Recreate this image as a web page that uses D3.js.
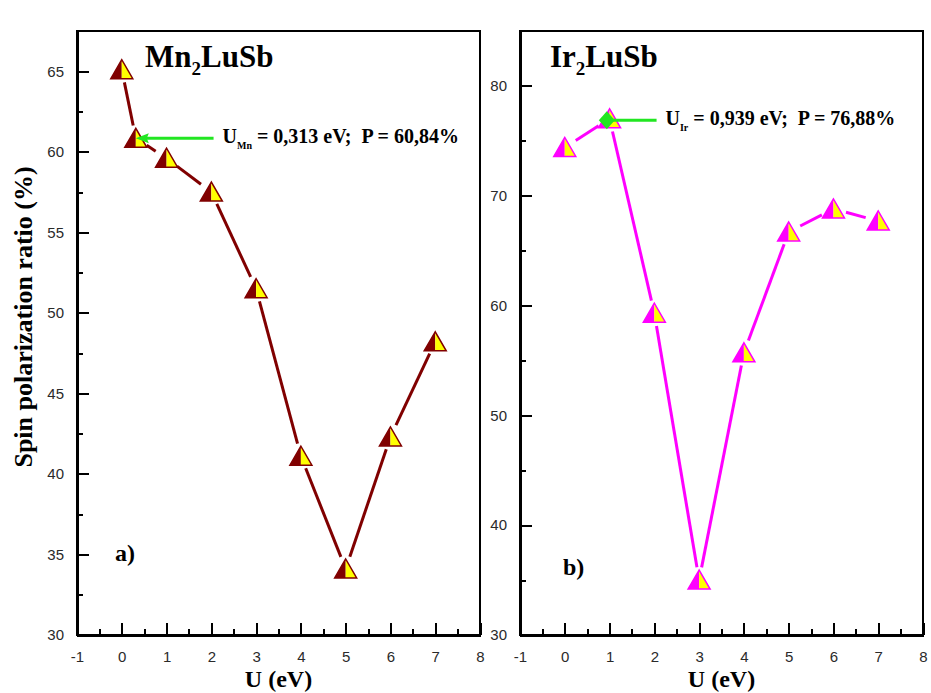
<!DOCTYPE html>
<html>
<head>
<meta charset="utf-8">
<script src="https://cdn.jsdelivr.net/npm/d3@7"></script>
<style>
	body { margin:0; background:#fff; }
	svg text { font-family:"Liberation Serif","Times New Roman",serif; }
	.tick text { font-family:"Liberation Sans",Arial,sans-serif; font-size:15px; fill:#2a2a2a; }
	.axis path, .axis line { stroke:#000; stroke-width:2px; shape-rendering:crispEdges; }
	.frame { shape-rendering:crispEdges; }
	.note { white-space:pre; }
</style>
</head>
<body>
<svg id="chart" width="931" height="693"></svg>
<script>
//================== DATA ==================
// panel a) Mn2LuSb
var mnU = [0, 0.313, 1, 2, 3, 4, 5, 6, 7];
var mnP = [65.1, 60.84, 59.6, 57.5, 51.5, 41.1, 34.1, 42.3, 48.2];
// panel b) Ir2LuSb
var irU = [0, 1, 2, 3, 4, 5, 6, 7];
var irP = [74.4, 77.0, 59.3, 35.0, 55.7, 66.7, 68.8, 67.7];

// marked optimum points (annotation)
var mnOptimum = [0.313, 60.84];
var irOptimum = [0.939, 76.88];

// tick values
var xTicks = [-1, 0, 1, 2, 3, 4, 5, 6, 7, 8];
var mnYTicks = [30, 35, 40, 45, 50, 55, 60, 65];
var irYTicks = [30, 40, 50, 60, 70, 80];

var svg = d3.select("#chart");

// plain hyphen for negatives, like the original
var tickFmt = function (d) { return String(d); };

//================== PANEL FUNCTION ==================
function panel(cfg) {
	var x = d3.scaleLinear().domain([-1, 8]).range([cfg.left, cfg.right]);
	var y = d3.scaleLinear().domain(cfg.yDomain).range([cfg.bottom, cfg.top]);
	var g = svg.append("g");

	// frame
	g.append("rect").attr("class", "frame")
		.attr("x", cfg.left).attr("y", cfg.top)
		.attr("width", cfg.right - cfg.left).attr("height", cfg.bottom - cfg.top)
		.attr("fill", "none").attr("stroke", "#000").attr("stroke-width", 2);

	// minor ticks (inward, no labels)
	var xMinor = d3.range(-0.5, 8, 1);
	g.append("g").attr("class", "axis")
		.attr("transform", "translate(0," + cfg.bottom + ")")
		.call(d3.axisBottom(x).tickValues(xMinor).tickSizeInner(-6).tickSizeOuter(0).tickFormat(""))
		.select(".domain").remove();
	var yMinor = d3.range(cfg.yDomain[0] + cfg.step / 2, cfg.yDomain[1], cfg.step);
	g.append("g").attr("class", "axis")
		.attr("transform", "translate(" + cfg.left + ",0)")
		.call(d3.axisLeft(y).tickValues(yMinor).tickSizeInner(-6).tickSizeOuter(0).tickFormat(""))
		.select(".domain").remove();

	// major ticks
	g.append("g").attr("class", "axis")
		.attr("transform", "translate(0," + cfg.bottom + ")")
		.call(d3.axisBottom(x).tickValues(xTicks).tickSizeInner(-12).tickSizeOuter(0).tickPadding(16).tickFormat(tickFmt));
	g.append("g").attr("class", "axis")
		.attr("transform", "translate(" + cfg.left + ",0)")
		.call(d3.axisLeft(y).tickValues(cfg.yTicks).tickSizeInner(-12).tickSizeOuter(0).tickPadding(13).tickFormat(tickFmt));

	// connecting line with gaps around the symbols
	var pts = cfg.u.map(function (u, i) { return [x(u), y(cfg.p[i])]; });
	var gap = 13;
	for (var i = 0; i < pts.length - 1; i++) {
		var a = pts[i], b = pts[i + 1];
		var dx = b[0] - a[0], dy = b[1] - a[1];
		var len = Math.sqrt(dx * dx + dy * dy);
		if (len <= 2 * gap) continue;
		var ux = dx / len, uy = dy / len;
		g.append("line")
			.attr("x1", a[0] + ux * gap).attr("y1", a[1] + uy * gap)
			.attr("x2", b[0] - ux * gap).attr("y2", b[1] - uy * gap)
			.attr("stroke", cfg.color).attr("stroke-width", 3);
	}

	// half filled triangles
	var w = 11, up = 10, dn = 9;
	var marks = g.selectAll("g.mark").data(pts).enter().append("g")
		.attr("class", "mark")
		.attr("transform", function (d) { return "translate(" + d + ")"; });
	marks.append("path")
		.attr("d", "M0," + (-up) + "L" + (-w) + "," + dn + "L0," + dn + "Z")
		.attr("fill", cfg.color);
	marks.append("path")
		.attr("d", "M0," + (-up) + "L" + w + "," + dn + "L0," + dn + "Z")
		.attr("fill", "#ffff00");
	marks.append("path")
		.attr("d", "M0," + (-up) + "L" + (-w) + "," + dn + "L" + w + "," + dn + "Z")
		.attr("fill", "none").attr("stroke", cfg.color).attr("stroke-width", 1.5);

	// green optimum marker + line + text
	var ox = x(cfg.opt[0]), oy = y(cfg.opt[1]);
	var green = "#22e622";
	g.append("line")
		.attr("x1", ox + 6).attr("y1", oy).attr("x2", x(2.05)).attr("y2", oy)
		.attr("stroke", green).attr("stroke-width", 3);
	if (cfg.arrow) {
		g.append("path")
			.attr("d", "M" + ox + "," + oy + "l13,-5l-2,5l2,5z")
			.attr("fill", green);
	} else {
		g.append("path")
			.attr("d", "M" + (ox - 8) + "," + oy + "l8,-9l8,9l-8,9z")
			.attr("fill", green);
	}
	var note = g.append("text").attr("class", "note")
		.attr("x", x(2.25)).attr("y", oy + 5)
		.attr("font-weight", "bold").attr("font-size", 20);
	note.append("tspan").text("U");
	note.append("tspan").attr("font-size", 10).attr("dy", 6).text(cfg.sub);
	note.append("tspan").attr("dy", -6).text(" = " + cfg.optText[0] + " eV;  P = " + cfg.optText[1] + "%");

	// compound title
	var title = g.append("text")
		.attr("x", cfg.titleX).attr("y", 67)
		.attr("font-weight", "bold").attr("font-size", 31);
	title.append("tspan").text(cfg.name[0]);
	title.append("tspan").attr("font-size", 19).attr("dy", 8).text("2");
	title.append("tspan").attr("dy", -8).text(cfg.name[1]);

	// panel letter
	g.append("text")
		.attr("x", cfg.letterX).attr("y", cfg.letterY)
		.attr("font-weight", "bold").attr("font-size", 24)
		.text(cfg.letter);

	// x axis title
	g.append("text")
		.attr("x", (cfg.left + cfg.right) / 2 + 0).attr("y", 687)
		.attr("text-anchor", "middle")
		.attr("font-weight", "bold").attr("font-size", 24)
		.text("U (eV)");
}

panel({
	left: 77, right: 480, top: 31, bottom: 635,
	yDomain: [30, 67.5], yTicks: mnYTicks, step: 5,
	u: mnU, p: mnP, color: "#800000",
	opt: mnOptimum, optText: ["0,313", "60,84"], sub: "Mn", arrow: true,
	name: ["Mn", "LuSb"], titleX: 145,
	letter: "a)", letterX: 115, letterY: 561
});

panel({
	left: 520, right: 923, top: 31, bottom: 635,
	yDomain: [30, 85], yTicks: irYTicks, step: 10,
	u: irU, p: irP, color: "#ff00ff",
	opt: irOptimum, optText: ["0,939", "76,88"], sub: "Ir", arrow: false,
	name: ["Ir", "LuSb"], titleX: 550,
	letter: "b)", letterX: 563, letterY: 575
});

// shared y axis title
svg.append("text")
	.attr("transform", "translate(32,317) rotate(-90)")
	.attr("text-anchor", "middle")
	.attr("font-weight", "bold").attr("font-size", 26)
	.text("Spin polarization ratio (%)");
</script>
</body>
</html>
